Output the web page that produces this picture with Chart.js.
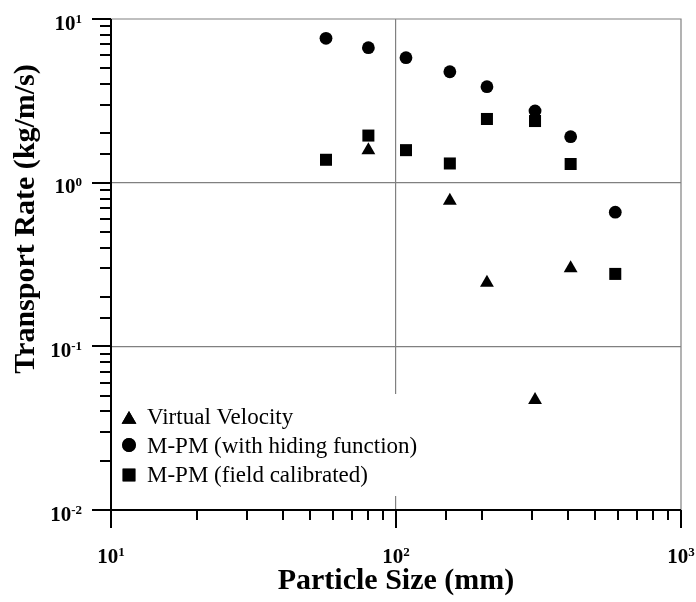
<!DOCTYPE html>
<html><head><meta charset="utf-8">
<script src="https://cdn.jsdelivr.net/npm/chart.js@4"></script>
<style>html,body{margin:0;padding:0;background:#fff}canvas{display:block}</style>
</head><body>
<canvas id="c" width="696" height="602" style="width:696px;height:602px"></canvas>
<script>
const seriesNames = ['Virtual Velocity', 'M-PM (with hiding function)', 'M-PM (field calibrated)'];
const vvSize = [80, 154.5, 208.5, 307.5, 410];
const vvRate = [1.58, 0.775, 0.245, 0.047, 0.30];
const hidingSize = [56.8, 80, 108.4, 154.5, 208.5, 307.5, 410, 588];
const hidingRate = [7.62, 6.68, 5.80, 4.76, 3.86, 2.74, 1.91, 0.66];
const fieldSize = [56.8, 80, 108.4, 154.5, 208.5, 307.5, 410, 588];
const fieldRate = [1.38, 1.94, 1.58, 1.31, 2.45, 2.38, 1.30, 0.277];
const xMajorTicks = [10, 100, 1000];
const xTickLabels = [['10', '1'], ['10', '2'], ['10', '3']];
const yMajorTicks = [0.01, 0.1, 1, 10];
const yTickLabels = [['10', '-2'], ['10', '-1'], ['10', '0'], ['10', '1']];
const xTitle = 'Particle Size (mm)';
const yTitle = 'Transport Rate (kg/m/s)';

const GRID = '#808080';
const SERIF = '"Liberation Serif", "Times New Roman", serif';
const styles = ['triangle', 'circle', 'rect'];
const radii = [8, 6.4, 8.5];

function pts(xs, ys) { return xs.map((v, i) => ({x: v, y: ys[i]})); }
function isMajor(v) { const l = Math.log10(v); return Math.abs(l - Math.round(l)) < 1e-6; }

const decor = {
  id: 'decor',
  afterDraw(chart) {
    const {ctx, chartArea: a, scales: {x, y}} = chart;
    ctx.save();
    // legend box (covers grid line)
    ctx.fillStyle = '#fff';
    ctx.fillRect(a.left + 1, a.bottom - 116, 316, 102);
    const rows = [a.bottom - 86, a.bottom - 57, a.bottom - 28];
    const mOff = [-4.5, -8, -7];
    ctx.fillStyle = '#000';
    ctx.font = '23px ' + SERIF;
    ctx.textBaseline = 'alphabetic';
    ctx.textAlign = 'left';
    seriesNames.forEach((n, i) => {
      const mx = a.left + 18, my = rows[i] + mOff[i];
      Chart.helpers.drawPoint(ctx, {pointStyle: styles[i], radius: radii[i] + 0.5, rotation: 0, borderWidth: 0}, mx, my);
      ctx.fill();
      ctx.fillText(n, a.left + 36, rows[i]);
    });
    // frame
    ctx.strokeStyle = GRID; ctx.lineWidth = 1.2;
    ctx.beginPath();
    ctx.moveTo(a.left, a.top); ctx.lineTo(a.right, a.top); ctx.lineTo(a.right, a.bottom);
    ctx.stroke();
    ctx.strokeStyle = '#000'; ctx.lineWidth = 2;
    ctx.beginPath();
    ctx.moveTo(a.left, a.top); ctx.lineTo(a.left, a.bottom + 18);
    ctx.moveTo(a.left - 19, a.bottom); ctx.lineTo(a.right, a.bottom);
    x.ticks.forEach(t => {
      const px = Math.round(x.getPixelForValue(t.value));
      ctx.moveTo(px, a.bottom); ctx.lineTo(px, a.bottom + (isMajor(t.value) ? 18 : 10));
    });
    y.ticks.forEach(t => {
      const py = Math.round(y.getPixelForValue(t.value));
      ctx.moveTo(a.left, py); ctx.lineTo(a.left - (isMajor(t.value) ? 19 : 11), py);
    });
    ctx.stroke();
    // tick labels
    const big = 'bold 21px ' + SERIF, small = 'bold 13px ' + SERIF;
    ctx.fillStyle = '#000';
    xMajorTicks.forEach((v, i) => {
      const px = x.getPixelForValue(v);
      ctx.font = big; const w1 = ctx.measureText(xTickLabels[i][0]).width;
      ctx.font = small; const w2 = ctx.measureText(xTickLabels[i][1]).width;
      const sx = px - (w1 + w2) / 2, by = a.bottom + 53;
      ctx.font = big; ctx.fillText(xTickLabels[i][0], sx, by);
      ctx.font = small; ctx.fillText(xTickLabels[i][1], sx + w1, by - 7);
    });
    yMajorTicks.forEach((v, i) => {
      const py = y.getPixelForValue(v);
      ctx.font = big; const w1 = ctx.measureText(yTickLabels[i][0]).width;
      ctx.font = small; const w2 = ctx.measureText(yTickLabels[i][1]).width;
      const right = a.left - 29, sx = right - w1 - w2, by = py + 10.5;
      ctx.font = big; ctx.fillText(yTickLabels[i][0], sx, by);
      ctx.font = small; ctx.fillText(yTickLabels[i][1], sx + w1, by - 7);
    });
    // axis titles
    ctx.font = 'bold 30px ' + SERIF;
    ctx.textAlign = 'center';
    ctx.fillText(xTitle, (a.left + a.right) / 2, a.bottom + 79);
    ctx.translate(34, a.top + 200);
    ctx.rotate(-Math.PI / 2);
    ctx.fillText(yTitle, 0, 0);
    ctx.restore();
  }
};

const gridColor = axisName => c => {
  if (!c.tick) return 'rgba(0,0,0,0)';
  const v = c.tick.value;
  const s = c.chart.scales[axisName];
  if (isMajor(v) && Math.abs(Math.log10(v) - Math.log10(s.min)) > 1e-6 && Math.abs(Math.log10(v) - Math.log10(s.max)) > 1e-6) return GRID;
  return 'rgba(0,0,0,0)';
};

new Chart(document.getElementById('c'), {
  type: 'scatter',
  data: {
    datasets: [
      {label: seriesNames[0], data: pts(vvSize, vvRate), pointStyle: styles[0], pointRadius: radii[0], backgroundColor: '#000', borderWidth: 0},
      {label: seriesNames[1], data: pts(hidingSize, hidingRate), pointStyle: styles[1], pointRadius: radii[1], backgroundColor: '#000', borderWidth: 0},
      {label: seriesNames[2], data: pts(fieldSize, fieldRate), pointStyle: styles[2], pointRadius: radii[2], backgroundColor: '#000', borderWidth: 0}
    ]
  },
  options: {
    responsive: false,
    animation: false,
    events: [],
    layout: {padding: {left: 111, top: 19, right: 15, bottom: 92}},
    plugins: {legend: {display: false}, tooltip: {enabled: false}},
    scales: {
      x: {type: 'logarithmic', min: 10, max: 1000,
          ticks: {display: false}, border: {display: false},
          grid: {drawTicks: false, lineWidth: 1.2, color: gridColor('x')}},
      y: {type: 'logarithmic', min: 0.01, max: 10,
          ticks: {display: false}, border: {display: false},
          grid: {drawTicks: false, lineWidth: 1.2, color: gridColor('y')}}
    }
  },
  plugins: [decor]
});
</script>
</body></html>
